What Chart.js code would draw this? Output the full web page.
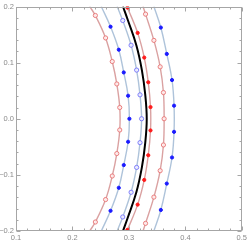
<!DOCTYPE html>
<html>
<head>
<meta charset="utf-8">
<script src="https://cdn.jsdelivr.net/npm/chart.js@4"></script>
<style>
html,body{margin:0;padding:0;background:#fff;}
#wrap{width:249px;height:244px;position:relative;}
</style>
</head>
<body>
<div id="wrap"><canvas id="c" width="249" height="244"></canvas></div>
<script>
// Axis tick labels
const xTicks = [0.1, 0.2, 0.3, 0.4, 0.5];
const yTicks = [-0.2, -0.1, 0.0, 0.1, 0.2];

// Curve A: light red line, open red circles
const aMarkY = [0.184, 0.144, 0.102, 0.062, 0.020, -0.020, -0.062, -0.102, -0.144, -0.184];
const aMarkX = [0.2406, 0.2587, 0.2705, 0.2786, 0.2838, 0.2838, 0.2786, 0.2705, 0.2587, 0.2406];
const aLineY = [0.2, 0.184, 0.144, 0.102, 0.062, 0.020, -0.020, -0.062, -0.102, -0.144, -0.184, -0.2];
const aLineX = [0.2306, 0.2406, 0.2587, 0.2705, 0.2786, 0.2838, 0.2838, 0.2786, 0.2705, 0.2587, 0.2406, 0.2306];

// Curve B: light blue line, filled blue dots
const bMarkY = [0.164, 0.123, 0.0825, 0.041, 0, -0.041, -0.0825, -0.123, -0.164];
const bMarkX = [0.2675, 0.2821, 0.2909, 0.2986, 0.3009, 0.2986, 0.2909, 0.2821, 0.2675];
const bLineY = [0.2, 0.164, 0.123, 0.0825, 0.041, 0, -0.041, -0.0825, -0.123, -0.164, -0.2];
const bLineX = [0.2511, 0.2675, 0.2821, 0.2909, 0.2986, 0.3009, 0.2986, 0.2909, 0.2821, 0.2675, 0.2511];

// Curve C: light blue line, open blue circles
const cMarkY = [0.175, 0.131, 0.0867, 0.0426, 0, -0.0426, -0.0867, -0.131, -0.175];
const cMarkX = [0.2891, 0.3039, 0.3137, 0.3197, 0.3225, 0.3197, 0.3137, 0.3039, 0.2891];
const cLineY = [0.2, 0.175, 0.131, 0.0867, 0.0426, 0, -0.0426, -0.0867, -0.131, -0.175, -0.2];
const cLineX = [0.2793, 0.2891, 0.3039, 0.3137, 0.3197, 0.3225, 0.3197, 0.3137, 0.3039, 0.2891, 0.2793];

// Curve D: thick black line
const dLineY = [0.2, 0.175, 0.131, 0.0867, 0.0426, 0, -0.0426, -0.0867, -0.131, -0.175, -0.2];
const dLineX = [0.2895, 0.2984, 0.3132, 0.3230, 0.3290, 0.3316, 0.3290, 0.3230, 0.3132, 0.2984, 0.2895];

// Curve E: light red line, filled red dots
const eMarkY = [0.198, 0.153, 0.109, 0.065, 0.0208, -0.0208, -0.065, -0.109, -0.153, -0.198];
const eMarkX = [0.2974, 0.3155, 0.3272, 0.3343, 0.3383, 0.3383, 0.3343, 0.3272, 0.3155, 0.2974];
const eLineY = [0.2, 0.153, 0.109, 0.065, 0.0208, -0.0208, -0.065, -0.109, -0.153, -0.2];
const eLineX = [0.2966, 0.3155, 0.3272, 0.3343, 0.3383, 0.3383, 0.3343, 0.3272, 0.3155, 0.2966];

// Curve F: light red line, open red circles
const fMarkY = [0.1864, 0.1396, 0.0925, 0.0467, 0, -0.0467, -0.0925, -0.1396, -0.1864];
const fMarkX = [0.3295, 0.3443, 0.3554, 0.3612, 0.3624, 0.3612, 0.3554, 0.3443, 0.3295];
const fLineY = [0.2, 0.1864, 0.1396, 0.0925, 0.0467, 0, -0.0467, -0.0925, -0.1396, -0.1864, -0.2];
const fLineX = [0.3250, 0.3295, 0.3443, 0.3554, 0.3612, 0.3624, 0.3612, 0.3554, 0.3443, 0.3295, 0.3250];

// Curve G: light blue line, filled blue dots
const gMarkY = [0.1625, 0.1155, 0.069, 0.0233, -0.0233, -0.069, -0.1155, -0.1625];
const gMarkX = [0.3566, 0.3671, 0.3764, 0.3800, 0.3800, 0.3764, 0.3671, 0.3566];
const gLineY = [0.2, 0.1625, 0.1155, 0.069, 0.0233, -0.0233, -0.069, -0.1155, -0.1625, -0.2];
const gLineX = [0.3443, 0.3566, 0.3671, 0.3764, 0.3800, 0.3800, 0.3764, 0.3671, 0.3566, 0.3443];

const pts = (xs, ys) => xs.map((x, i) => ({x: x, y: ys[i]}));

const RED_LINE = 'rgba(216,156,156,0.95)';
const BLUE_LINE = 'rgba(170,192,216,0.95)';

function lineDs(xs, ys, color, w) {
  return {data: pts(xs, ys), showLine: true, borderColor: color, borderWidth: w,
          pointRadius: 0, pointHoverRadius: 0, tension: 0.4, fill: false};
}
function markDs(xs, ys, fill, stroke, r) {
  return {data: pts(xs, ys), showLine: false, pointStyle: 'circle', pointRadius: r,
          pointBackgroundColor: fill, pointBorderColor: stroke, pointBorderWidth: 1,
          pointHoverRadius: r};
}

const framePlugin = {
  id: 'frame',
  afterDraw(chart) {
    const ctx = chart.ctx;
    const {left, right, top, bottom} = chart.chartArea;
    const xs = chart.scales.x, ys = chart.scales.y;
    ctx.save();
    ctx.strokeStyle = '#a6a6a6';
    ctx.lineWidth = 1;
    const L = Math.round(left) + 0.5, R = Math.round(right) - 0.5;
    const T = Math.round(top) + 0.5, B = Math.round(bottom) - 0.5;
    ctx.strokeRect(L, T, R - L, B - T);
    ctx.beginPath();
    for (let k = 0; k <= 20; k++) {
      const v = xTicks[0] + k * 0.02;
      const major = k % 5 === 0;
      const len = major ? 4 : 2;
      const px = Math.round(xs.getPixelForValue(v)) + 0.5;
      ctx.moveTo(px, B); ctx.lineTo(px, B - len);
      ctx.moveTo(px, T); ctx.lineTo(px, T + len);
    }
    for (let k = 0; k <= 20; k++) {
      const v = yTicks[0] + k * 0.02;
      const major = k % 5 === 0;
      const len = major ? 4 : 2;
      const py = Math.round(ys.getPixelForValue(v)) + 0.5;
      ctx.moveTo(L, py); ctx.lineTo(L + len, py);
      ctx.moveTo(R, py); ctx.lineTo(R - len, py);
    }
    ctx.stroke();
    ctx.restore();
  }
};

const fmt = v => { const s = Number(v).toFixed(1); return s.replace('-', '\u2212'); };

new Chart(document.getElementById('c'), {
  type: 'scatter',
  data: {
    datasets: [
      markDs(aMarkX, aMarkY, 'rgba(255,238,238,0.9)', 'rgba(232,115,115,0.9)', 2.1),
      markDs(bMarkX, bMarkY, '#1a1aff', '#1a1aff', 1.6),
      markDs(cMarkX, cMarkY, 'rgba(238,238,255,0.9)', 'rgba(115,115,250,0.9)', 2.1),
      markDs(eMarkX, eMarkY, '#ff1a1a', '#ff1a1a', 1.6),
      markDs(fMarkX, fMarkY, 'rgba(255,238,238,0.9)', 'rgba(232,115,115,0.9)', 2.1),
      markDs(gMarkX, gMarkY, '#1a1aff', '#1a1aff', 1.6),
      lineDs(dLineX, dLineY, '#000000', 2),
      lineDs(aLineX, aLineY, RED_LINE, 1.4),
      lineDs(bLineX, bLineY, BLUE_LINE, 1.4),
      lineDs(cLineX, cLineY, BLUE_LINE, 1.4),
      lineDs(eLineX, eLineY, RED_LINE, 1.4),
      lineDs(fLineX, fLineY, RED_LINE, 1.4),
      lineDs(gLineX, gLineY, BLUE_LINE, 1.4)
    ]
  },
  options: {
    responsive: false,
    animation: false,
    events: [],
    layout: {padding: {top: 4, right: 6, left: 0, bottom: 0}},
    plugins: {legend: {display: false}, tooltip: {enabled: false}},
    scales: {
      x: {
        type: 'linear', min: xTicks[0], max: xTicks[xTicks.length - 1],
        grid: {display: false, drawTicks: false}, border: {display: false},
        afterBuildTicks: s => { s.ticks = xTicks.map(v => ({value: v})); },
        afterFit: s => { s.height = 13; },
        ticks: {padding: 2, color: '#8a8a8a', font: {family: 'Liberation Sans', size: 7.5},
                maxRotation: 0, autoSkip: false, callback: v => fmt(v)}
      },
      y: {
        type: 'linear', min: yTicks[0], max: yTicks[yTicks.length - 1],
        grid: {display: false, drawTicks: false}, border: {display: false},
        afterBuildTicks: s => { s.ticks = yTicks.map(v => ({value: v})); },
        afterFit: s => { s.width = 16; },
        ticks: {padding: 2, color: '#8a8a8a', font: {family: 'Liberation Sans', size: 7.5},
                autoSkip: false, callback: v => fmt(v)}
      }
    }
  },
  plugins: [framePlugin]
});
</script>
</body>
</html>
